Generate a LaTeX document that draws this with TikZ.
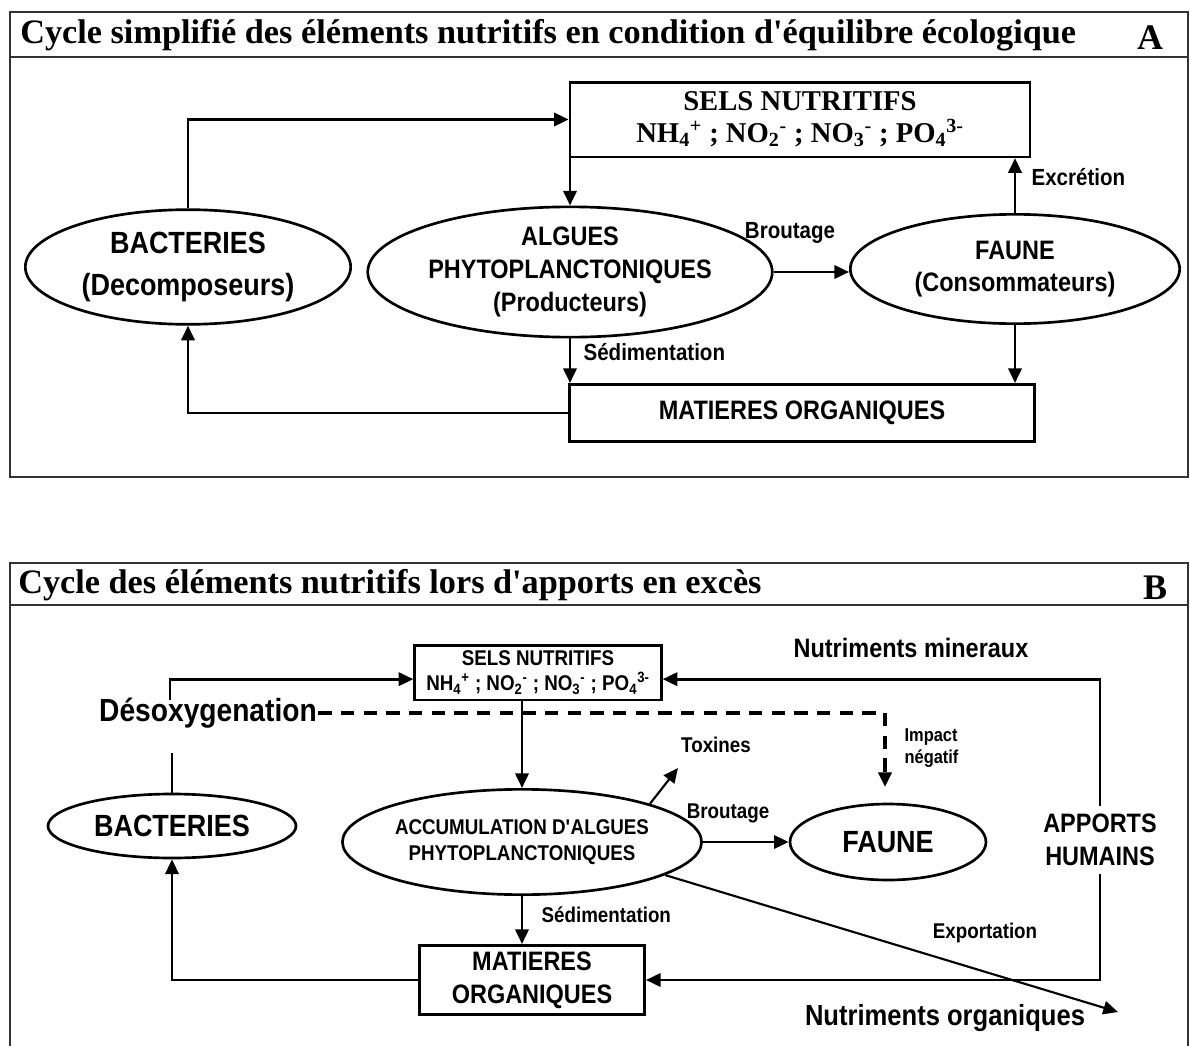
\documentclass[tikz,border=0pt]{standalone}
\usepackage{fontspec}
\usepackage{amsmath}
\setmainfont{Liberation Serif}
\newfontfamily\lab[FakeStretch=0.88]{Liberation Sans}
\usetikzlibrary{shapes.geometric,arrows.meta}

\begin{document}
\begin{tikzpicture}[x=0.75pt,y=-0.75pt,
    box/.style={draw,line width=2pt,inner sep=0pt,align=center},
    oval/.style={ellipse,draw,line width=2pt,inner sep=0pt,align=center},
    flow/.style={line width=2pt,-{Triangle[length=11pt,width=10pt]}},
    link/.style={line width=2pt},
    frm/.style={line width=2pt,black!80},
    ttl/.style={anchor=west,inner sep=0pt,font=\bfseries\fontsize{25.7}{30}\selectfont},
    big/.style={inner sep=1pt,align=center,font=\lab\bfseries\fontsize{23}{31}\selectfont},
    mid/.style={inner sep=1pt,align=center,font=\lab\bfseries\fontsize{20}{24.5}\selectfont},
    sml/.style={inner sep=1pt,align=center,font=\lab\bfseries\fontsize{17.5}{21}\selectfont},
    tiny/.style={inner sep=1pt,align=center,font=\lab\bfseries\fontsize{16}{19}\selectfont}]
\useasboundingbox (0,0) rectangle (1190,1046);

% ---------- A : equilibre ----------
\draw[frm] (10,12) rectangle (1188,477);
\draw[frm] (10,57) -- (1188,57);
\node[ttl] (titleA) at (20,35) {Cycle simplifié des éléments nutritifs en condition d\textquotesingle équilibre écologique};
\node[ttl,anchor=center,font=\bfseries\fontsize{27}{30}\selectfont] (tagA) at (1150,38) {A};

\node[box,minimum width=345pt,minimum height=56pt,font=\bfseries\fontsize{21.5}{24}\selectfont] (selsA) at (800,119.5)
    {SELS NUTRITIFS\\NH$_{\text{4}}{}^{\text{+}}$ ; NO$_{\text{2}}{}^{\text{-}}$ ; NO$_{\text{3}}{}^{\text{-}}$ ; PO$_{\text{4}}{}^{\text{3-}}$};
\node[oval,big,minimum width=244pt,minimum height=86pt] (bactA) at (188,267) {BACTERIES\\(Decomposeurs)};
\node[oval,mid,minimum width=247pt,minimum height=77pt] (algA) at (570,272) {ALGUES\\PHYTOPLANCTONIQUES\\(Producteurs)};
\node[oval,mid,minimum width=247pt,minimum height=82pt] (fauneA) at (1015,269) {FAUNE\\(Consommateurs)};
\node[box,mid,minimum width=349pt,minimum height=43pt] (matA) at (802,413) {MATIERES ORGANIQUES};

\draw[flow] (bactA.north) |- (selsA.west);
\draw[flow] (selsA.south west -| algA.north) -- (algA.north);
\draw[flow] (algA.east) -- (algA.east -| fauneA.west);
\draw[flow] (fauneA.north) -- (fauneA.north |- selsA.south);
\draw[flow] (fauneA.south) -- (fauneA.south |- matA.north);
\draw[flow] (algA.south) -- (algA.south |- matA.north);
\draw[flow] (matA.west) -| (bactA.south);

\node[sml] (broutA) at (790,233) {Broutage};
\node[sml,anchor=west] (excr) at (1030,177) {Excrétion};
\node[sml,anchor=west] (sedA) at (582,352) {Sédimentation};

% ---------- B : apports en exces ----------
\draw[frm] (10,563) rectangle (1188,1060);
\draw[frm] (10,605) -- (1188,605);
\node[ttl] (titleB) at (18,585) {Cycle des éléments nutritifs lors d\textquotesingle apports en excès};
\node[ttl,anchor=center,font=\bfseries\fontsize{27}{30}\selectfont] (tagB) at (1155,588) {B};

\node[box,minimum width=185pt,minimum height=41pt,font=\lab\bfseries\fontsize{16}{19}\selectfont] (selsB) at (538,672.5)
    {SELS NUTRITIFS\\NH$_{\text{4}}{}^{\text{+}}$ ; NO$_{\text{2}}{}^{\text{-}}$ ; NO$_{\text{3}}{}^{\text{-}}$ ; PO$_{\text{4}}{}^{\text{3-}}$};
\node[oval,big,minimum width=186pt,minimum height=48pt] (bactB) at (172,826) {BACTERIES};
\node[oval,minimum width=245pt,minimum height=79pt,font=\lab\bfseries\fontsize{16}{19}\selectfont] (accB) at (522,842)
    {ACCUMULATION D\textquotesingle ALGUES\\PHYTOPLANCTONIQUES};
\node[oval,big,minimum width=147pt,minimum height=57pt] (fauneB) at (888,842) {FAUNE};
\node[box,mid,minimum width=169pt,minimum height=52pt] (matB) at (532,980) {MATIERES\\ORGANIQUES};
\node[mid,inner sep=6pt] (apports) at (1100,840) {APPORTS\\HUMAINS};

\node[inner sep=1pt,font=\lab\bfseries\fontsize{24}{27}\selectfont] (desox) at (208,713) {Désoxygenation};
\node[mid] (miner) at (911,648) {Nutriments mineraux};
\node[inner sep=1pt,font=\lab\bfseries\fontsize{21.8}{24}\selectfont] (organ) at (945,1018) {Nutriments organiques};
\node[tiny] (tox) at (716,745) {Toxines};
\node[anchor=west,align=left,inner sep=1pt,font=\lab\bfseries\fontsize{14}{17}\selectfont] (impact) at (903,748) {Impact\\négatif};
\node[tiny] (broutB) at (728,813) {Broutage};
\node[tiny,anchor=west] (sedB) at (540,915) {Sédimentation};
\node[tiny] (export) at (985,933) {Exportation};

\coordinate (dsx) at (170,700);
\coordinate (impTip) at (885,787);
\coordinate (toxTip) at (678,768);
\coordinate (expTip) at (1118,1012);

\draw[flow] (dsx) |- ([yshift=-5pt]selsB.west);
\draw[link] (bactB.north) -- ++(0,-40);
\draw[flow,line width=2.5pt,dash pattern=on 10pt off 7pt] (desox.east) -| (impTip);
\draw[flow] (selsB.south -| accB.north) -- (accB.north);
\draw[flow,line width=1.6pt] (accB.north east) -- (toxTip);
\draw[flow] (accB.east) -- (accB.east -| fauneB.west);
\draw[flow] (accB.south) -- (accB.south |- matB.north);
\draw[flow,line width=1.6pt] (accB.-13) -- (expTip);
\draw[flow] (apports.north) |- ([yshift=-5pt]selsB.east);
\draw[flow] (apports.south) |- (matB.east);
\draw[flow] (matB.west) -| (bactB.south);
\end{tikzpicture}
\end{document}
